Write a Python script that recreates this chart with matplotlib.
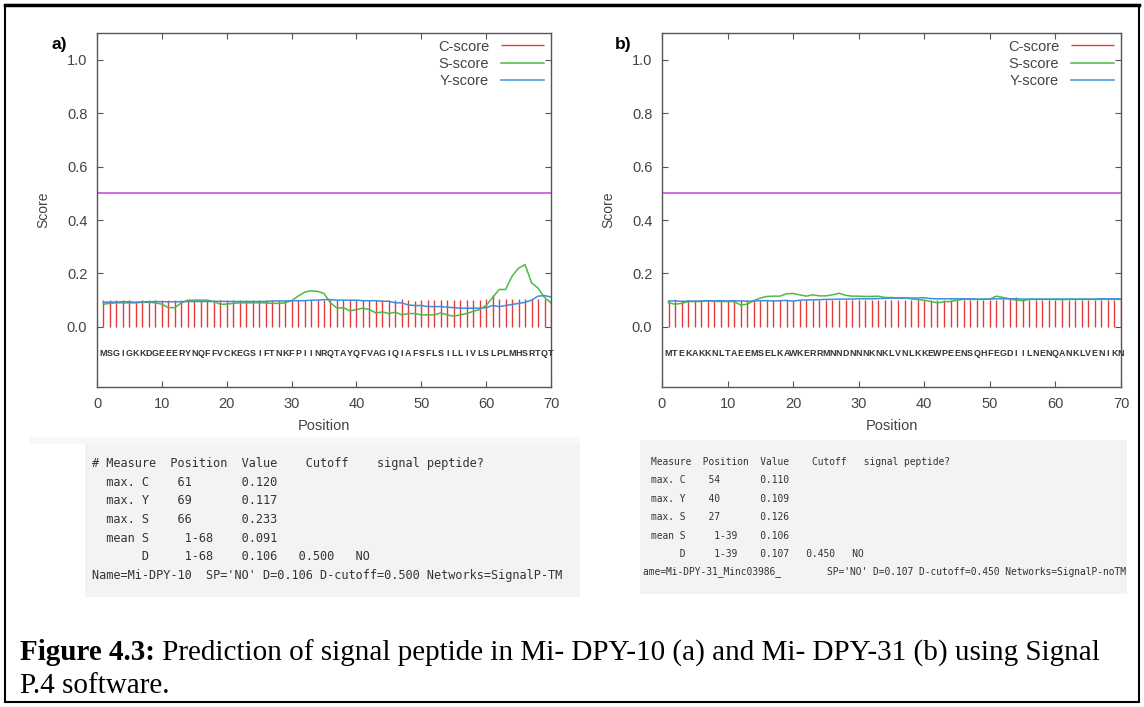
"""
SignalP 4 output for Mi-DPY-10 (a) and Mi-DPY-31 (b), redrawn with matplotlib.
"""

import numpy as np
import matplotlib
matplotlib.use("Agg")
import matplotlib.pyplot as plt
from matplotlib.patches import Rectangle

# ---- data ------------------------------------------------------------------
positions = list(range(1, 71))

seq_a = "MSGIGKKDGEEERYNQFFVCKEGSIFTNKFPIINRQTAYQFVAGIQIAFSFLSILLIVLSLPLMHSRTQT"
seq_b = "MTEKAKKNLTAEEMSELKAWKERRMNNDNNNKNKLVNLKKEWPEENSQHFEGDIILNENQANKLVENIKN"

c_score_a = [0.100, 0.100, 0.100, 0.100, 0.100, 0.098, 0.100, 0.100, 0.102, 0.100,
             0.102, 0.100, 0.100, 0.100, 0.100, 0.100, 0.100, 0.100, 0.102, 0.100,
             0.100, 0.100, 0.100, 0.100, 0.100, 0.100, 0.100, 0.100, 0.100, 0.100,
             0.100, 0.100, 0.100, 0.100, 0.100, 0.100, 0.100, 0.100, 0.100, 0.100,
             0.100, 0.100, 0.100, 0.100, 0.100, 0.100, 0.103, 0.100, 0.098, 0.102,
             0.102, 0.102, 0.102, 0.102, 0.102, 0.102, 0.102, 0.102, 0.102, 0.104,
             0.120, 0.104, 0.104, 0.104, 0.104, 0.104, 0.104, 0.104, 0.104, 0.104]
s_score_a = [0.085, 0.088, 0.090, 0.090, 0.090, 0.090, 0.092, 0.092, 0.090, 0.085,
             0.072, 0.072, 0.090, 0.100, 0.100, 0.100, 0.100, 0.095, 0.085, 0.085,
             0.088, 0.090, 0.090, 0.090, 0.090, 0.090, 0.088, 0.088, 0.090, 0.098,
             0.115, 0.130, 0.135, 0.133, 0.125, 0.090, 0.070, 0.072, 0.060, 0.065,
             0.070, 0.065, 0.052, 0.056, 0.050, 0.055, 0.045, 0.050, 0.050, 0.045,
             0.045, 0.045, 0.052, 0.045, 0.040, 0.045, 0.050, 0.058, 0.065, 0.080,
             0.110, 0.140, 0.140, 0.190, 0.220, 0.233, 0.165, 0.145, 0.110, 0.090]
y_score_a = [0.092, 0.093, 0.093, 0.094, 0.094, 0.092, 0.094, 0.094, 0.095, 0.094,
             0.094, 0.094, 0.094, 0.095, 0.095, 0.095, 0.095, 0.095, 0.096, 0.095,
             0.095, 0.095, 0.095, 0.095, 0.095, 0.095, 0.097, 0.097, 0.097, 0.098,
             0.098, 0.098, 0.100, 0.100, 0.102, 0.102, 0.100, 0.100, 0.100, 0.100,
             0.098, 0.098, 0.098, 0.096, 0.096, 0.090, 0.090, 0.082, 0.080, 0.080,
             0.076, 0.076, 0.076, 0.074, 0.072, 0.070, 0.070, 0.070, 0.070, 0.072,
             0.080, 0.076, 0.080, 0.084, 0.088, 0.092, 0.100, 0.115, 0.117, 0.112]

c_score_b = [0.100, 0.100, 0.100, 0.100, 0.100, 0.100, 0.100, 0.100, 0.100, 0.100,
             0.102, 0.100, 0.100, 0.100, 0.100, 0.100, 0.100, 0.100, 0.100, 0.100,
             0.100, 0.100, 0.100, 0.100, 0.100, 0.100, 0.100, 0.100, 0.100, 0.100,
             0.100, 0.100, 0.100, 0.100, 0.100, 0.102, 0.102, 0.102, 0.102, 0.102,
             0.102, 0.102, 0.102, 0.102, 0.102, 0.102, 0.102, 0.102, 0.102, 0.102,
             0.102, 0.104, 0.106, 0.110, 0.104, 0.102, 0.102, 0.102, 0.102, 0.102,
             0.102, 0.102, 0.102, 0.102, 0.102, 0.102, 0.102, 0.102, 0.102, 0.102]
s_score_b = [0.090, 0.085, 0.088, 0.095, 0.095, 0.095, 0.098, 0.095, 0.095, 0.095,
             0.095, 0.082, 0.085, 0.098, 0.108, 0.114, 0.115, 0.115, 0.124, 0.125,
             0.120, 0.115, 0.120, 0.116, 0.116, 0.120, 0.126, 0.118, 0.115, 0.115,
             0.114, 0.114, 0.115, 0.110, 0.110, 0.108, 0.108, 0.105, 0.102, 0.100,
             0.095, 0.090, 0.094, 0.095, 0.100, 0.103, 0.103, 0.103, 0.103, 0.104,
             0.115, 0.110, 0.105, 0.100, 0.098, 0.103, 0.103, 0.103, 0.103, 0.103,
             0.102, 0.103, 0.103, 0.103, 0.103, 0.103, 0.103, 0.103, 0.103, 0.103]
y_score_b = [0.096, 0.098, 0.095, 0.097, 0.096, 0.097, 0.098, 0.097, 0.098, 0.097,
             0.098, 0.097, 0.096, 0.097, 0.098, 0.098, 0.097, 0.098, 0.099, 0.096,
             0.100, 0.101, 0.101, 0.102, 0.103, 0.103, 0.104, 0.104, 0.104, 0.105,
             0.105, 0.105, 0.106, 0.107, 0.108, 0.108, 0.108, 0.108, 0.108, 0.109,
             0.106, 0.105, 0.105, 0.105, 0.105, 0.105, 0.105, 0.104, 0.104, 0.104,
             0.105, 0.105, 0.105, 0.105, 0.104, 0.104, 0.104, 0.104, 0.104, 0.104,
             0.104, 0.104, 0.104, 0.104, 0.104, 0.104, 0.105, 0.105, 0.105, 0.105]

d_cutoff_line = 0.5

table_a = ["# Measure  Position  Value    Cutoff    signal peptide?",
           "  max. C    61       0.120",
           "  max. Y    69       0.117",
           "  max. S    66       0.233",
           "  mean S     1-68    0.091",
           "       D     1-68    0.106   0.500   NO"]
name_a = "Name=Mi-DPY-10  SP='NO' D=0.106 D-cutoff=0.500 Networks=SignalP-TM"

table_b = ["Measure  Position  Value    Cutoff   signal peptide?",
           "max. C    54       0.110",
           "max. Y    40       0.109",
           "max. S    27       0.126",
           "mean S     1-39    0.106",
           "     D     1-39    0.107   0.450   NO"]
name_b = "ame=Mi-DPY-31_Minc03986_        SP='NO' D=0.107 D-cutoff=0.450 Networks=SignalP-noTM"

caption_bold = "Figure 4.3:"
caption_rest = " Prediction of signal peptide in Mi- DPY-10 (a) and Mi- DPY-31 (b) using Signal"
caption_line2 = "P.4 software."

# ---- style ------------------------------------------------------------------
plt.rcParams.update({"font.family": "Liberation Sans", "font.size": 9})
W, H = 1144, 707
red, green, blue, purple = "#e23b3b", "#4cbb44", "#3a8fe0", "#cc4fe0"
axcol = "#555555"

fig = plt.figure(figsize=(W / 100, H / 100), dpi=100)


def px(x0, y0, x1, y1):
    # pixel box -> figure fraction [left, bottom, width, height]
    return [x0 / W, 1 - y1 / H, (x1 - x0) / W, (y1 - y0) / H]


def signalp_panel(rect, seq, c, s, y):
    ax = fig.add_axes(rect)
    ax.vlines(positions, 0, c, color=red, lw=1.0, label="C-score")
    ax.plot(positions, s, color=green, lw=1.1, label="S-score")
    ax.plot(positions, y, color=blue, lw=1.1, label="Y-score")
    ax.axhline(d_cutoff_line, color=purple, lw=1.2)
    for p, aa in zip(positions, seq):
        ax.text(p, -0.1, aa, ha="center", va="center", fontsize=6.4,
                fontweight="bold", color="#333333")
    ax.set_xlim(0, 70)
    ax.set_ylim(-0.225, 1.1)
    ax.set_xticks(range(0, 71, 10))
    ax.set_yticks([0.0, 0.2, 0.4, 0.6, 0.8, 1.0])
    ax.set_yticklabels(["0.0", "0.2", "0.4", "0.6", "0.8", "1.0"])
    ax.tick_params(direction="in", top=True, right=True, length=4,
                   color=axcol, labelcolor="#444444", labelsize=10.5, pad=7)
    for sp in ax.spines.values():
        sp.set_color(axcol)
        sp.set_linewidth(1.0)
    ax.set_xlabel("Position", fontsize=10.5, color="#444444", labelpad=6)
    ax.set_ylabel("Score", fontsize=10, color="#444444", labelpad=12)
    leg = ax.legend(loc="upper right", frameon=False, markerfirst=False,
                    fontsize=10.5, handlelength=3.0, labelspacing=0.22,
                    borderaxespad=0.05, handletextpad=0.8)
    for t in leg.get_texts():
        t.set_color("#444444")
    return ax


ax_a = signalp_panel(px(97, 33, 551, 387), seq_a, c_score_a, s_score_a, y_score_a)
ax_b = signalp_panel(px(662, 33, 1121, 387), seq_b, c_score_b, s_score_b, y_score_b)

fig.text(52 / W, 1 - 45 / H, "a)", fontsize=12.5, fontweight="bold", va="center")
fig.text(615 / W, 1 - 45 / H, "b)", fontsize=12.5, fontweight="bold", va="center")

# ---- result tables ------------------------------------------------------------
fig.add_artist(Rectangle((30 / W, 1 - 444 / H), 550 / W, 7 / H,
                         transform=fig.transFigure, color="#f7f7f7", lw=0))
fig.add_artist(Rectangle((85 / W, 1 - 597 / H), 495 / W, 153 / H,
                         transform=fig.transFigure, color="#f3f3f3", lw=0))
fig.add_artist(Rectangle((640 / W, 1 - 594 / H), 487 / W, 154 / H,
                         transform=fig.transFigure, color="#f3f3f3", lw=0))

mono = dict(family="DejaVu Sans Mono", color="#333333", va="center")
for i, line in enumerate(table_a):
    fig.text(92 / W, 1 - (464 + 18.5 * i) / H, line, fontsize=8.55, **mono)
fig.text(92 / W, 1 - 575 / H, name_a, fontsize=8.55, **mono)
for i, line in enumerate(table_b):
    fig.text(651 / W, 1 - (462 + 18.4 * i) / H, line, fontsize=6.9, **mono)
fig.text(643 / W, 1 - 572 / H, name_b, fontsize=6.9, **mono)

# ---- caption ------------------------------------------------------------------
serif = dict(family="Liberation Serif", fontsize=21, va="center")
t1 = fig.text(20 / W, 1 - 653 / H, caption_bold, fontweight="bold", **serif)
fig.canvas.draw()
bb = t1.get_window_extent()
fig.text(bb.x1 / W, 1 - 653 / H, caption_rest, **serif)
fig.text(20 / W, 1 - 686 / H, caption_line2, **serif)

# ---- frame round the whole figure -------------------------------------------
fig.add_artist(Rectangle((5 / W, 5 / H), 1134 / W, 697 / H,
                         transform=fig.transFigure, fill=False,
                         edgecolor="black", lw=1.5))
fig.add_artist(plt.Line2D([5 / W, 1139 / W], [1 - 5 / H, 1 - 5 / H],
                          transform=fig.transFigure, color="black", lw=2.5))

fig.savefig("out.png", dpi=100)
